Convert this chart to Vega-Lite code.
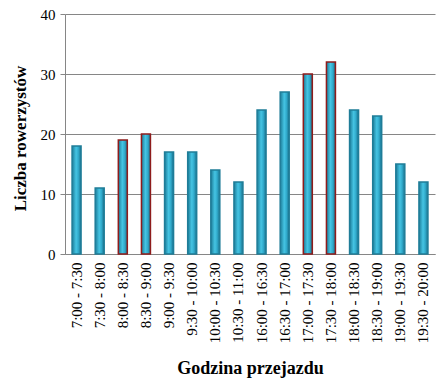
{
  "$schema": "https://vega.github.io/schema/vega-lite/v6.json",
  "width": 370,
  "height": 240,
  "autosize": {"type": "none"},
  "padding": {"left": 65, "top": 14, "right": 13, "bottom": 132},
  "background": "white",
  "data": {
    "values": [
      {"godzina": "7:00 - 7:30", "liczba": 18, "szczyt": "nie"},
      {"godzina": "7:30 - 8:00", "liczba": 11, "szczyt": "nie"},
      {"godzina": "8:00 - 8:30", "liczba": 19, "szczyt": "tak"},
      {"godzina": "8:30 - 9:00", "liczba": 20, "szczyt": "tak"},
      {"godzina": "9:00 - 9:30", "liczba": 17, "szczyt": "nie"},
      {"godzina": "9:30 - 10:00", "liczba": 17, "szczyt": "nie"},
      {"godzina": "10:00 - 10:30", "liczba": 14, "szczyt": "nie"},
      {"godzina": "10:30 - 11:00", "liczba": 12, "szczyt": "nie"},
      {"godzina": "16:00 - 16:30", "liczba": 24, "szczyt": "nie"},
      {"godzina": "16:30 - 17:00", "liczba": 27, "szczyt": "nie"},
      {"godzina": "17:00 - 17:30", "liczba": 30, "szczyt": "tak"},
      {"godzina": "17:30 - 18:00", "liczba": 32, "szczyt": "tak"},
      {"godzina": "18:00 - 18:30", "liczba": 24, "szczyt": "nie"},
      {"godzina": "18:30 - 19:00", "liczba": 23, "szczyt": "nie"},
      {"godzina": "19:00 - 19:30", "liczba": 15, "szczyt": "nie"},
      {"godzina": "19:30 - 20:00", "liczba": 12, "szczyt": "nie"}
    ]
  },
  "mark": {
    "type": "bar",
    "width": 9,
    "strokeWidth": 1.5,
    "fill": {
      "gradient": "linear",
      "x1": 0, "y1": 0, "x2": 1, "y2": 0,
      "stops": [
        {"offset": 0, "color": "#1c7c98"},
        {"offset": 0.45, "color": "#45c4e3"},
        {"offset": 0.7, "color": "#31abcc"},
        {"offset": 1, "color": "#196f8a"}
      ]
    }
  },
  "encoding": {
    "x": {
      "field": "godzina",
      "type": "nominal",
      "sort": null,
      "scale": {"paddingInner": 0.6, "paddingOuter": 0.3},
      "axis": {
        "title": "Godzina przejazdu",
        "titleFont": "Liberation Serif",
        "titleFontSize": 18,
        "titleFontWeight": "bold",
        "titleColor": "black",
        "titleX": 185,
        "titleY": 114,
        "titleBaseline": "middle",
        "labelFont": "Liberation Serif",
        "labelFontSize": 15,
        "labelColor": "black",
        "labelAngle": -90,
        "labelPadding": 8,
        "ticks": false,
        "domainColor": "#868686",
        "domainWidth": 1,
        "grid": false
      }
    },
    "y": {
      "field": "liczba",
      "type": "quantitative",
      "scale": {"domain": [0, 40]},
      "axis": {
        "title": "Liczba rowerzystów",
        "titleFont": "Liberation Serif",
        "titleFontSize": 17,
        "titleFontWeight": "bold",
        "titleColor": "black",
        "titleX": -45,
        "titleY": 124,
        "titleAngle": 270,
        "titleAlign": "center",
        "titleBaseline": "middle",
        "values": [0, 10, 20, 30, 40],
        "labelFont": "Liberation Serif",
        "labelFontSize": 15,
        "labelColor": "black",
        "labelPadding": 5,
        "tickSize": 5,
        "tickColor": "#868686",
        "domainColor": "#868686",
        "gridColor": "#868686",
        "gridWidth": 1,
        "gridOpacity": 1
      }
    },
    "stroke": {
      "field": "szczyt",
      "type": "nominal",
      "scale": {"domain": ["nie", "tak"], "range": ["#1f7d98", "#8e1c1c"]},
      "legend": null
    }
  },
  "config": {"view": {"stroke": null}}
}
